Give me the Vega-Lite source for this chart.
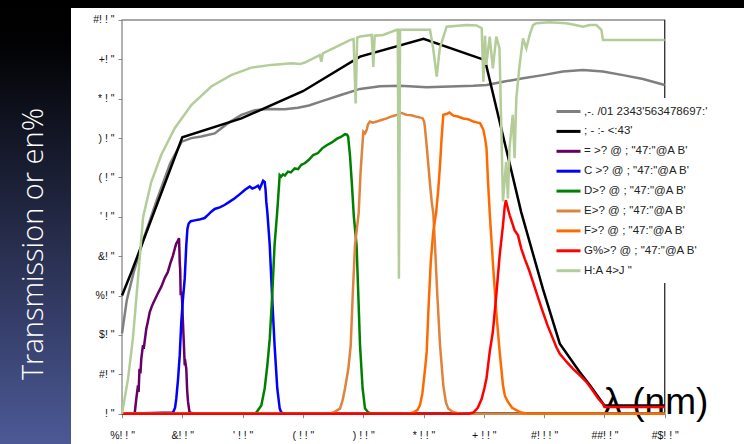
{
  "$schema": "https://vega.github.io/schema/vega-lite/v6.json",
  "background": "#000000",
  "padding": 0,
  "spacing": 0,
  "config": {"view": {"stroke": null}, "font": "Liberation Sans", "concat": {"spacing": 0}},
  "datasets": {
    "names": [
      {"k": "a", "s": ",-. /01 2343'563478697:'"},
      {"k": "b", "s": "; - :- <:43'"},
      {"k": "c", "s": "= >? @ ; \"47:\"@A B'"},
      {"k": "d", "s": "C >? @ ; \"47:\"@A B'"},
      {"k": "e", "s": "D>? @ ; \"47:\"@A B'"},
      {"k": "f", "s": "E>? @ ; \"47:\"@A B'"},
      {"k": "g", "s": "F>? @ ; \"47:\"@A B'"},
      {"k": "h", "s": "G%>? @ ; \"47:\"@A B'"},
      {"k": "i", "s": "H:A 4>J \""}
    ],
    "curves": [
      {"k":"a","x":300,"y":20.4},{"k":"a","x":308,"y":28.9},{"k":"a","x":319,"y":35.7},{"k":"a","x":335,"y":44.1},{"k":"a","x":357.5,"y":54.2},{"k":"a","x":380,"y":63.6},{"k":"a","x":399,"y":69.1},{"k":"a","x":415,"y":70.0},{"k":"a","x":431.5,"y":70.4},{"k":"a","x":453.7,"y":71.2},{"k":"a","x":475.8,"y":73.8},{"k":"a","x":498,"y":75.9},{"k":"a","x":520,"y":77.1},{"k":"a","x":542,"y":77.4},{"k":"a","x":569.8,"y":77.3},{"k":"a","x":591.9,"y":77.7},{"k":"a","x":610,"y":78.3},{"k":"a","x":628,"y":79.2},{"k":"a","x":661.5,"y":80.9},{"k":"a","x":694.7,"y":82.5},{"k":"a","x":727.9,"y":83.2},{"k":"a","x":761,"y":83.3},{"k":"a","x":805.3,"y":82.9},{"k":"a","x":844,"y":83.1},{"k":"a","x":882.6,"y":83.3},{"k":"a","x":904.8,"y":83.5},{"k":"a","x":931.8,"y":84.3},{"k":"a","x":965,"y":85.2},{"k":"a","x":998,"y":86.0},{"k":"a","x":1031,"y":86.9},{"k":"a","x":1064.5,"y":87.3},{"k":"a","x":1097.7,"y":86.9},{"k":"a","x":1130.8,"y":86.0},{"k":"a","x":1164,"y":85.0},{"k":"a","x":1200,"y":83.5},
      {"k":"b","x":300,"y":30},{"k":"b","x":316,"y":36.1},{"k":"b","x":400,"y":70.2},{"k":"b","x":498,"y":75},{"k":"b","x":600,"y":81.9},{"k":"b","x":694.7,"y":90.7},{"k":"b","x":800,"y":95.2},{"k":"b","x":902,"y":89.8},{"k":"b","x":962,"y":51.2},{"k":"b","x":998,"y":31.7},{"k":"b","x":1026,"y":17.8},{"k":"b","x":1059,"y":10.6},{"k":"b","x":1076,"y":7.2},{"k":"b","x":1100,"y":2.1},{"k":"b","x":1200,"y":2.1},
      {"k":"c","x":300,"y":0},{"k":"c","x":321,"y":0},{"k":"c","x":323.7,"y":3.8},{"k":"c","x":326.5,"y":7.2},{"k":"c","x":327.5,"y":5.5},{"k":"c","x":329,"y":11.4},{"k":"c","x":330.5,"y":10.2},{"k":"c","x":332,"y":14},{"k":"c","x":334.8,"y":17.4},{"k":"c","x":336,"y":16.5},{"k":"c","x":340.3,"y":21.6},{"k":"c","x":343,"y":23.5},{"k":"c","x":346,"y":25.8},{"k":"c","x":350,"y":27.5},{"k":"c","x":354,"y":28.8},{"k":"c","x":360,"y":30.7},{"k":"c","x":365,"y":32.2},{"k":"c","x":371,"y":34.5},{"k":"c","x":376,"y":36},{"k":"c","x":381,"y":38.6},{"k":"c","x":384.6,"y":40.2},{"k":"c","x":388,"y":42.2},{"k":"c","x":390,"y":43.2},{"k":"c","x":393,"y":44},{"k":"c","x":394.5,"y":44.6},{"k":"c","x":395.3,"y":41},{"k":"c","x":395.7,"y":38.5},{"k":"c","x":396.5,"y":36.5},{"k":"c","x":397.3,"y":30.1},{"k":"c","x":398.5,"y":31},{"k":"c","x":399.5,"y":29.2},{"k":"c","x":401,"y":23.3},{"k":"c","x":402.5,"y":18},{"k":"c","x":404,"y":12.3},{"k":"c","x":405.3,"y":12.8},{"k":"c","x":406.6,"y":11.4},{"k":"c","x":408,"y":6},{"k":"c","x":409.5,"y":3},{"k":"c","x":412,"y":0.3},{"k":"c","x":420,"y":0},{"k":"c","x":1200,"y":0},
      {"k":"d","x":300,"y":0},{"k":"d","x":384.6,"y":0.3},{"k":"d","x":388,"y":1.5},{"k":"d","x":390,"y":3.8},{"k":"d","x":393,"y":8.9},{"k":"d","x":395.7,"y":14.8},{"k":"d","x":398.3,"y":23.3},{"k":"d","x":401,"y":29},{"k":"d","x":404,"y":34.3},{"k":"d","x":406.6,"y":42.8},{"k":"d","x":408.5,"y":47},{"k":"d","x":410.6,"y":48.3},{"k":"d","x":414,"y":48.9},{"k":"d","x":420.6,"y":49.1},{"k":"d","x":428,"y":49.3},{"k":"d","x":437,"y":49.7},{"k":"d","x":442.6,"y":50.5},{"k":"d","x":448,"y":51.3},{"k":"d","x":453.7,"y":52},{"k":"d","x":462,"y":52.4},{"k":"d","x":470,"y":53},{"k":"d","x":478,"y":53.8},{"k":"d","x":487,"y":54.7},{"k":"d","x":495,"y":55.7},{"k":"d","x":503.5,"y":56.8},{"k":"d","x":511.8,"y":57.7},{"k":"d","x":516,"y":57.2},{"k":"d","x":520,"y":57.4},{"k":"d","x":525.5,"y":57.9},{"k":"d","x":528.4,"y":57.2},{"k":"d","x":531,"y":58.1},{"k":"d","x":534,"y":59.2},{"k":"d","x":536.6,"y":58.9},{"k":"d","x":538,"y":57},{"k":"d","x":539.3,"y":53.8},{"k":"d","x":541,"y":51.2},{"k":"d","x":545,"y":42.8},{"k":"d","x":548.8,"y":30.1},{"k":"d","x":553,"y":17.4},{"k":"d","x":557.5,"y":6.4},{"k":"d","x":561.5,"y":1.3},{"k":"d","x":564,"y":0.3},{"k":"d","x":570,"y":0},{"k":"d","x":1200,"y":0},
      {"k":"e","x":300,"y":0},{"k":"e","x":520,"y":0},{"k":"e","x":522.7,"y":0.3},{"k":"e","x":531,"y":2.1},{"k":"e","x":536.6,"y":6.4},{"k":"e","x":541,"y":12.3},{"k":"e","x":545,"y":19},{"k":"e","x":548.8,"y":29.2},{"k":"e","x":553,"y":42.8},{"k":"e","x":557.5,"y":51.5},{"k":"e","x":559.5,"y":56},{"k":"e","x":561.5,"y":60.6},{"k":"e","x":564,"y":60.2},{"k":"e","x":567,"y":60.8},{"k":"e","x":570,"y":60.5},{"k":"e","x":575.3,"y":61.5},{"k":"e","x":580,"y":61.3},{"k":"e","x":586.4,"y":62.3},{"k":"e","x":592,"y":62.1},{"k":"e","x":597.3,"y":63.2},{"k":"e","x":603,"y":63.6},{"k":"e","x":610,"y":64.5},{"k":"e","x":617,"y":65.7},{"k":"e","x":625,"y":66.2},{"k":"e","x":632,"y":67.4},{"k":"e","x":639.5,"y":68.2},{"k":"e","x":648,"y":68.9},{"k":"e","x":656,"y":69.8},{"k":"e","x":663,"y":70.3},{"k":"e","x":669.8,"y":71},{"k":"e","x":673,"y":70.9},{"k":"e","x":675,"y":70.4},{"k":"e","x":678,"y":65.7},{"k":"e","x":681,"y":58.9},{"k":"e","x":684.5,"y":50},{"k":"e","x":689,"y":42.8},{"k":"e","x":691.9,"y":30.1},{"k":"e","x":694.7,"y":17.4},{"k":"e","x":699,"y":6.4},{"k":"e","x":703,"y":1.3},{"k":"e","x":708.5,"y":0.3},{"k":"e","x":715,"y":0},{"k":"e","x":1200,"y":0},
      {"k":"f","x":300,"y":0},{"k":"f","x":645,"y":0},{"k":"f","x":650.4,"y":0.3},{"k":"f","x":661.5,"y":1.3},{"k":"f","x":666,"y":3.5},{"k":"f","x":669.8,"y":6.4},{"k":"f","x":675.3,"y":11.4},{"k":"f","x":679.3,"y":17.4},{"k":"f","x":682.6,"y":30.1},{"k":"f","x":686.4,"y":42.8},{"k":"f","x":692.5,"y":51},{"k":"f","x":695.5,"y":61},{"k":"f","x":697.5,"y":65.7},{"k":"f","x":700.2,"y":71.6},{"k":"f","x":703,"y":71.2},{"k":"f","x":705.8,"y":72.1},{"k":"f","x":708,"y":73.5},{"k":"f","x":711.3,"y":74.2},{"k":"f","x":716,"y":73.9},{"k":"f","x":722.4,"y":74.2},{"k":"f","x":730,"y":74.6},{"k":"f","x":739,"y":75},{"k":"f","x":747,"y":75.5},{"k":"f","x":755.6,"y":75.9},{"k":"f","x":763,"y":76.4},{"k":"f","x":772,"y":75.9},{"k":"f","x":780,"y":75.8},{"k":"f","x":788.7,"y":75.4},{"k":"f","x":795,"y":75.2},{"k":"f","x":798.7,"y":75},{"k":"f","x":801,"y":74.2},{"k":"f","x":802.5,"y":72.5},{"k":"f","x":805,"y":68.5},{"k":"f","x":808,"y":63.2},{"k":"f","x":811,"y":58},{"k":"f","x":813.6,"y":53.8},{"k":"f","x":816.3,"y":50.8},{"k":"f","x":819,"y":42.8},{"k":"f","x":822.9,"y":30.1},{"k":"f","x":827.4,"y":17.4},{"k":"f","x":832.8,"y":7.2},{"k":"f","x":837,"y":3},{"k":"f","x":841,"y":1.3},{"k":"f","x":848,"y":0.5},{"k":"f","x":855,"y":0.2},{"k":"f","x":870,"y":0},{"k":"f","x":1200,"y":0},
      {"k":"g","x":300,"y":0},{"k":"g","x":775,"y":0},{"k":"g","x":783,"y":0.3},{"k":"g","x":790,"y":1},{"k":"g","x":794,"y":2.1},{"k":"g","x":798,"y":5},{"k":"g","x":800.8,"y":8.9},{"k":"g","x":803,"y":12},{"k":"g","x":805.3,"y":15.7},{"k":"g","x":808,"y":25.8},{"k":"g","x":812,"y":38.5},{"k":"g","x":816,"y":46},{"k":"g","x":821,"y":51.2},{"k":"g","x":824.5,"y":57},{"k":"g","x":827.4,"y":63.2},{"k":"g","x":830,"y":70},{"k":"g","x":832.8,"y":75.9},{"k":"g","x":838.4,"y":76.1},{"k":"g","x":843,"y":76.5},{"k":"g","x":849.4,"y":75.7},{"k":"g","x":857,"y":75.5},{"k":"g","x":866,"y":75},{"k":"g","x":874,"y":74.8},{"k":"g","x":882.6,"y":74.2},{"k":"g","x":888,"y":74},{"k":"g","x":893.7,"y":73.8},{"k":"g","x":896.5,"y":73},{"k":"g","x":899.2,"y":72.1},{"k":"g","x":902,"y":70},{"k":"g","x":904.5,"y":67.4},{"k":"g","x":907,"y":58.9},{"k":"g","x":909.8,"y":51},{"k":"g","x":915,"y":38.5},{"k":"g","x":920.7,"y":25.8},{"k":"g","x":926.3,"y":15.7},{"k":"g","x":931.8,"y":7.2},{"k":"g","x":935,"y":4.5},{"k":"g","x":940,"y":3},{"k":"g","x":947,"y":1.5},{"k":"g","x":953.9,"y":0.9},{"k":"g","x":962,"y":0.3},{"k":"g","x":975,"y":0},{"k":"g","x":1200,"y":0},
      {"k":"h","x":300,"y":0},{"k":"h","x":875,"y":0},{"k":"h","x":882.6,"y":0.3},{"k":"h","x":890,"y":1.5},{"k":"h","x":896.5,"y":3.8},{"k":"h","x":901,"y":6.5},{"k":"h","x":904.5,"y":9},{"k":"h","x":909.8,"y":15.7},{"k":"h","x":915,"y":20.8},{"k":"h","x":920.7,"y":30.1},{"k":"h","x":926.3,"y":40.2},{"k":"h","x":931.8,"y":47.9},{"k":"h","x":934.6,"y":52.5},{"k":"h","x":936.5,"y":54.2},{"k":"h","x":938.5,"y":53},{"k":"h","x":941,"y":51.5},{"k":"h","x":943,"y":50.4},{"k":"h","x":947,"y":48.5},{"k":"h","x":951,"y":46.6},{"k":"h","x":956.7,"y":45.3},{"k":"h","x":962,"y":42},{"k":"h","x":967.8,"y":39.4},{"k":"h","x":975,"y":36.5},{"k":"h","x":981.5,"y":33.5},{"k":"h","x":990,"y":29.5},{"k":"h","x":998,"y":25.8},{"k":"h","x":1006,"y":22.3},{"k":"h","x":1014.8,"y":19},{"k":"h","x":1020,"y":17},{"k":"h","x":1026,"y":15.2},{"k":"h","x":1037,"y":13.2},{"k":"h","x":1048,"y":11.4},{"k":"h","x":1059,"y":9.8},{"k":"h","x":1070,"y":8.1},{"k":"h","x":1080,"y":6},{"k":"h","x":1090,"y":3.8},{"k":"h","x":1097.7,"y":2.5},{"k":"h","x":1100,"y":1.7},{"k":"h","x":1200,"y":1.7},
      {"k":"i","x":300,"y":0},{"k":"i","x":310,"y":8.9},{"k":"i","x":318,"y":19},{"k":"i","x":326.5,"y":34.3},{"k":"i","x":335,"y":50},{"k":"i","x":348.6,"y":58.9},{"k":"i","x":365,"y":65.7},{"k":"i","x":387.4,"y":72.5},{"k":"i","x":415,"y":78.4},{"k":"i","x":448,"y":83.1},{"k":"i","x":481,"y":86},{"k":"i","x":514.4,"y":87.9},{"k":"i","x":547.6,"y":88.6},{"k":"i","x":580.8,"y":89},{"k":"i","x":595,"y":88.8},{"k":"i","x":603,"y":89.2},{"k":"i","x":628,"y":91.1},{"k":"i","x":630.5,"y":89.4},{"k":"i","x":633,"y":91.5},{"k":"i","x":650,"y":92.8},{"k":"i","x":678,"y":94.9},{"k":"i","x":684,"y":95.2},{"k":"i","x":687.5,"y":78.8},{"k":"i","x":690,"y":95.5},{"k":"i","x":694.7,"y":95.8},{"k":"i","x":714,"y":96.2},{"k":"i","x":716.8,"y":88.1},{"k":"i","x":719,"y":96},{"k":"i","x":733,"y":96.2},{"k":"i","x":755.6,"y":97.5},{"k":"i","x":757.3,"y":97.5},{"k":"i","x":759.2,"y":34.3},{"k":"i","x":761.1,"y":97.5},{"k":"i","x":766.5,"y":97.5},{"k":"i","x":788.7,"y":97.5},{"k":"i","x":810.8,"y":97.5},{"k":"i","x":816,"y":92.8},{"k":"i","x":821.9,"y":85.6},{"k":"i","x":827,"y":92.8},{"k":"i","x":838.4,"y":98.3},{"k":"i","x":871.6,"y":98.7},{"k":"i","x":888,"y":98.6},{"k":"i","x":896.5,"y":97.9},{"k":"i","x":899.3,"y":84.3},{"k":"i","x":902,"y":96},{"k":"i","x":904,"y":88.6},{"k":"i","x":909.8,"y":95.8},{"k":"i","x":915,"y":87.7},{"k":"i","x":920.7,"y":95.8},{"k":"i","x":926,"y":92.8},{"k":"i","x":931.8,"y":53.9},{"k":"i","x":937,"y":64},{"k":"i","x":940,"y":54.7},{"k":"i","x":942.6,"y":67.4},{"k":"i","x":948,"y":75.9},{"k":"i","x":951,"y":64.9},{"k":"i","x":953.9,"y":80.1},{"k":"i","x":959.4,"y":88.6},{"k":"i","x":965,"y":95.3},{"k":"i","x":970.5,"y":92.8},{"k":"i","x":976,"y":96.2},{"k":"i","x":981.6,"y":98.7},{"k":"i","x":987,"y":99.2},{"k":"i","x":1009,"y":99.4},{"k":"i","x":1036.8,"y":99.2},{"k":"i","x":1050,"y":98.8},{"k":"i","x":1064.5,"y":98.3},{"k":"i","x":1075.6,"y":98.7},{"k":"i","x":1086.6,"y":98.7},{"k":"i","x":1095,"y":97.5},{"k":"i","x":1097.7,"y":94.9},{"k":"i","x":1200,"y":94.9}
    ]
  },
  "hconcat": [
    {
      "width": 71,
      "height": 444,
      "view": {
        "stroke": null,
        "fill": {"gradient": "linear", "x1": 0, "y1": 0, "x2": 0, "y2": 1,
          "stops": [{"offset": 0, "color": "#000000"}, {"offset": 0.1, "color": "#020204"}, {"offset": 1, "color": "#4c5996"}]}
      },
      "data": {"values": [{"t": "Transmission or en%"}]},
      "mark": {"type": "text", "angle": 270, "color": "#ffffff", "font": "Open Sans", "fontWeight": 300, "fontSize": 29, "align": "center", "baseline": "middle", "dx": -22, "dy": -2},
      "encoding": {"text": {"field": "t", "type": "nominal"}}
    },
    {
      "width": 673,
      "height": 444,
      "view": {
        "stroke": null,
        "fill": {"gradient": "linear", "x1": 0, "y1": 0, "x2": 0, "y2": 1,
          "stops": [{"offset": 0, "color": "#000000"}, {"offset": 0.018, "color": "#000000"}, {"offset": 0.018, "color": "#ffffff"}, {"offset": 1, "color": "#ffffff"}]}
      },
      "layer": [
        {
          "data": {"values": [{}]},
          "mark": {"type": "rect", "filled": false, "stroke": "#8a8a8a", "strokeWidth": 1.3},
          "encoding": {
            "x": {"datum": 300, "type": "quantitative", "scale": {"domain": [215.4, 1331.5], "nice": false, "zero": false}},
            "x2": {"datum": 1200},
            "y": {"datum": 0, "type": "quantitative", "scale": {"domain": [-7.70, 105.08], "nice": false, "zero": false}},
            "y2": {"datum": 100}
          }
        },
        {
          "data": {"values": [{}]},
          "mark": {"type": "rule", "color": "#222222", "strokeWidth": 1},
          "encoding": {
            "x": {"datum": 1200, "type": "quantitative", "scale": {"domain": [215.4, 1331.5], "nice": false, "zero": false}},
            "y": {"datum": 0, "type": "quantitative", "scale": {"domain": [-7.70, 105.08], "nice": false, "zero": false}},
            "y2": {"datum": 100}
          }
        },
        {
          "data": {"name": "curves"},
          "transform": [{"lookup": "k", "from": {"data": {"name": "names"}, "key": "k", "fields": ["s"]}}],
          "mark": {"type": "line", "strokeWidth": 2.5},
          "encoding": {
            "x": {
              "field": "x", "type": "quantitative",
              "scale": {"domain": [215.4, 1331.5], "nice": false, "zero": false},
              "axis": {
                "orient": "bottom", "offset": -30.3, "values": [300, 400, 500, 600, 700, 800, 900, 1000, 1100, 1200],
                "domain": false, "grid": false, "ticks": true, "tickColor": "#888888", "tickSize": 4,
                "labelExpr": "{'300':'%! ! \"','400':'&! ! \"','500':'\\' ! ! \"','600':'( ! ! \"','700':') ! ! \"','800':'* ! ! \"','900':'+ ! ! \"','1000':'#! ! ! \"','1100':'##! ! \"','1200':'#$! ! \"'}[datum.value]",
                "labelFont": "Liberation Sans", "labelFontSize": 10.5, "labelColor": "#111111", "labelPadding": 13, "labelFlush": false, "labelOverlap": false,
                "title": "λ (nm)", "titleFont": "Liberation Sans", "titleFontSize": 37, "titleFontWeight": "normal", "titleColor": "#000000",
                "titleX": 532, "titleY": 0, "titleAlign": "left", "titleBaseline": "alphabetic", "titleAngle": 0
              }
            },
            "y": {
              "field": "y", "type": "quantitative",
              "scale": {"domain": [-7.70, 105.08], "nice": false, "zero": false},
              "axis": {
                "orient": "left", "offset": -51, "values": [0, 10, 20, 30, 40, 50, 60, 70, 80, 90, 100],
                "domain": false, "grid": false, "tickColor": "#888888", "tickSize": 4,
                "labelExpr": "{'0':'! \"','10':'#! \"','20':'$! \"','30':'%! \"','40':'&! \"','50':'\\' ! \"','60':'( ! \"','70':') ! \"','80':'* ! \"','90':'+! \"','100':'#! ! \"'}[datum.value]",
                "labelFont": "Liberation Sans", "labelFontSize": 10.5, "labelColor": "#111111", "labelPadding": 4, "labelFlush": false, "labelOverlap": false,
                "title": null
              }
            },
            "color": {
              "field": "s", "type": "nominal",
              "scale": {
                "domain": [",-. /01 2343'563478697:'", "; - :- <:43'", "= >? @ ; \"47:\"@A B'", "C >? @ ; \"47:\"@A B'", "D>? @ ; \"47:\"@A B'", "E>? @ ; \"47:\"@A B'", "F>? @ ; \"47:\"@A B'", "G%>? @ ; \"47:\"@A B'", "H:A 4>J \""],
                "range": ["#7f7f7f", "#000000", "#660066", "#0000ff", "#008000", "#e0823c", "#ff6a00", "#ff0000", "#b4cc98"]
              },
              "legend": {
                "orient": "none", "legendX": 555, "legendY": 98, "title": null,
                "fillColor": "#ffffff", "padding": 6,
                "symbolType": "M-2,0H2", "symbolSize": 144, "symbolStrokeWidth": 3,
                "labelOffset": 8, "rowPadding": 5.9,
                "labelFont": "Liberation Sans", "labelFontSize": 11.5, "labelColor": "#222222", "labelLimit": 600
              }
            }
          }
        }
      ]
    }
  ]
}
